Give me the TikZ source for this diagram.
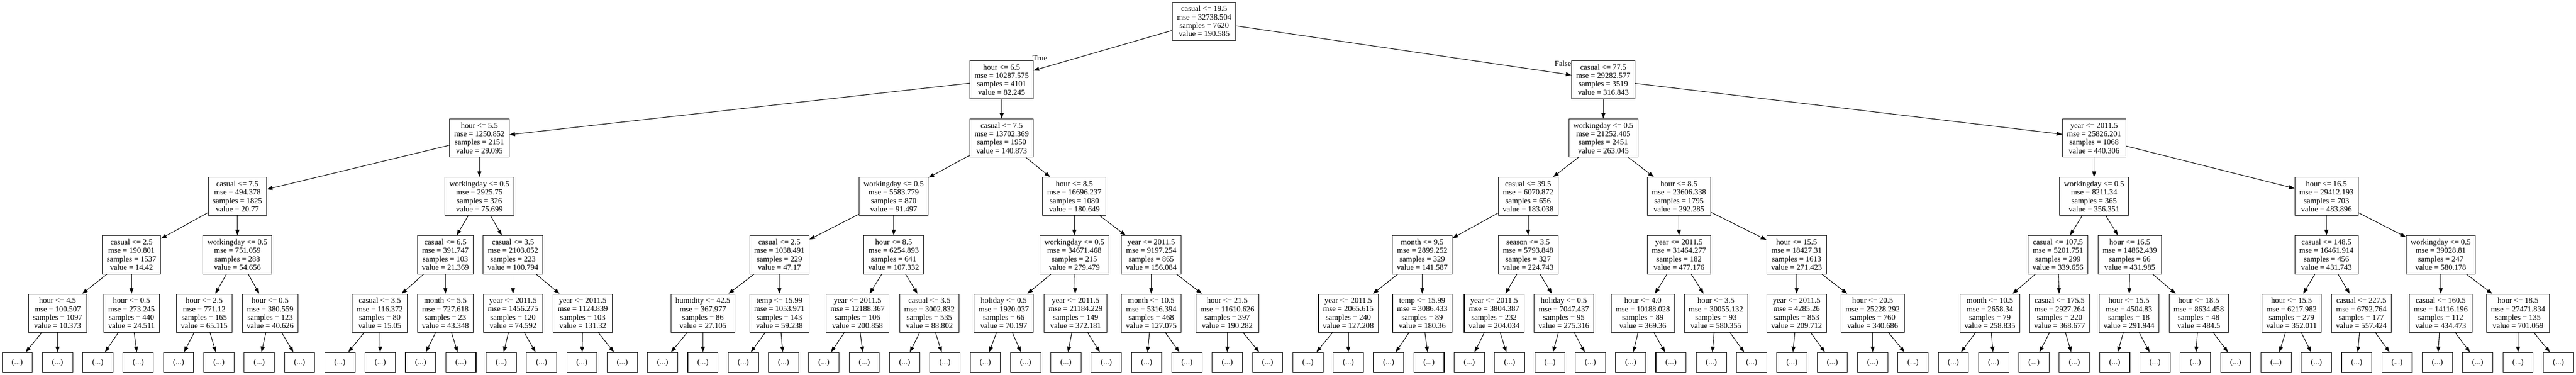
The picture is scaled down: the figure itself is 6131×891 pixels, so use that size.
\documentclass[tikz,border=0pt]{standalone}
\usepackage{fontspec}
\setmainfont{Liberation Serif}
\usepackage{tikz}
\usetikzlibrary{arrows.meta}
\tikzset{>={Triangle[length=10bp,width=7bp]}}
\tikzstyle{split node}=[draw,line width=1bp,rectangle,align=center,inner xsep=8bp,inner ysep=2bp,minimum height=68.25bp,font=\fontsize{14bp}{15bp}\selectfont]
\tikzstyle{more node}=[draw,line width=1bp,rectangle,minimum width=54bp,minimum height=36bp,inner sep=0pt,font=\fontsize{14bp}{15bp}\selectfont]
\tikzstyle{tree edge}=[->,line width=1bp]

\begin{document}
\begin{tikzpicture}[x=0.75bp,y=-0.75bp]
    \useasboundingbox (0,0) rectangle (6131,891);
    \def\ya{50.5}
    \def\yb{189.3}
    \def\yc{328.1}
    \def\yd{466.9}
    \def\ye{605.7}
    \def\yf{744.5}

    % depth 0 and 1
    \node[split node] (n0) at (2866,\ya) {casual <= 19.5\\mse = 32738.504\\samples = 7620\\value = 190.585};
    \node[split node] (n1) at (2384,\yb) {hour <= 6.5\\mse = 10287.575\\samples = 4101\\value = 82.245};
    \node[split node] (n2) at (3816,\yb) {casual <= 77.5\\mse = 29282.577\\samples = 3519\\value = 316.843};
    \node (truelbl) at (2475,137.5) {\fontsize{14bp}{15bp}\selectfont True};
    \node (falselbl) at (3720,151) {\fontsize{14bp}{15bp}\selectfont False};

    % depth 2
    \node[split node] (n3) at (1141,\yc) {hour <= 5.5\\mse = 1250.852\\samples = 2151\\value = 29.095};
    \node[split node] (n4) at (2384,\yc) {casual <= 7.5\\mse = 13702.369\\samples = 1950\\value = 140.873};
    \node[split node] (n5) at (3816,\yc) {workingday <= 0.5\\mse = 21252.405\\samples = 2451\\value = 263.045};
    \node[split node] (n6) at (4984,\yc) {year <= 2011.5\\mse = 25826.201\\samples = 1068\\value = 440.306};

    % depth 3
    \node[split node] (n7) at (565,\yd) {casual <= 7.5\\mse = 494.378\\samples = 1825\\value = 20.77};
    \node[split node] (n8) at (1141,\yd) {workingday <= 0.5\\mse = 2925.75\\samples = 326\\value = 75.699};
    \node[split node] (n9) at (2127,\yd) {workingday <= 0.5\\mse = 5583.779\\samples = 870\\value = 91.497};
    \node[split node] (n10) at (2557,\yd) {hour <= 8.5\\mse = 16696.237\\samples = 1080\\value = 180.649};
    \node[split node] (n11) at (3637,\yd) {casual <= 39.5\\mse = 6070.872\\samples = 656\\value = 183.038};
    \node[split node] (n12) at (3996,\yd) {hour <= 8.5\\mse = 23606.338\\samples = 1795\\value = 292.285};
    \node[split node] (n13) at (4984,\yd) {workingday <= 0.5\\mse = 8211.34\\samples = 365\\value = 356.351};
    \node[split node] (n14) at (5537,\yd) {hour <= 16.5\\mse = 29412.193\\samples = 703\\value = 483.896};

    % depth 4
    \node[split node] (n15) at (313,\ye) {casual <= 2.5\\mse = 190.801\\samples = 1537\\value = 14.42};
    \node[split node] (n16) at (565,\ye) {workingday <= 0.5\\mse = 751.059\\samples = 288\\value = 54.656};
    \node[split node] (n17) at (1060,\ye) {casual <= 6.5\\mse = 391.747\\samples = 103\\value = 21.369};
    \node[split node] (n18) at (1221,\ye) {casual <= 3.5\\mse = 2103.052\\samples = 223\\value = 100.794};
    \node[split node] (n19) at (1855,\ye) {casual <= 2.5\\mse = 1038.491\\samples = 229\\value = 47.17};
    \node[split node] (n20) at (2127,\ye) {hour <= 8.5\\mse = 6254.893\\samples = 641\\value = 107.332};
    \node[split node] (n21) at (2557,\ye) {workingday <= 0.5\\mse = 34671.468\\samples = 215\\value = 279.479};
    \node[split node] (n22) at (2740,\ye) {year <= 2011.5\\mse = 9197.254\\samples = 865\\value = 156.084};
    \node[split node] (n23) at (3385,\ye) {month <= 9.5\\mse = 2899.252\\samples = 329\\value = 141.587};
    \node[split node] (n24) at (3637,\ye) {season <= 3.5\\mse = 5793.848\\samples = 327\\value = 224.743};
    \node[split node] (n25) at (3996,\ye) {year <= 2011.5\\mse = 31464.277\\samples = 182\\value = 477.176};
    \node[split node] (n26) at (4276,\ye) {hour <= 15.5\\mse = 18427.31\\samples = 1613\\value = 271.423};
    \node[split node] (n27) at (4898,\ye) {casual <= 107.5\\mse = 5201.751\\samples = 299\\value = 339.656};
    \node[split node] (n28) at (5069,\ye) {hour <= 16.5\\mse = 14862.439\\samples = 66\\value = 431.985};
    \node[split node] (n29) at (5537,\ye) {casual <= 148.5\\mse = 16461.914\\samples = 456\\value = 431.743};
    \node[split node] (n30) at (5809,\ye) {workingday <= 0.5\\mse = 39028.81\\samples = 247\\value = 580.178};

    % depth 5
    \node[split node] (n31) at (137,\yf) {hour <= 4.5\\mse = 100.507\\samples = 1097\\value = 10.373};
    \node[split node] (n32) at (313,\yf) {hour <= 0.5\\mse = 273.245\\samples = 440\\value = 24.511};
    \node[split node] (n33) at (486,\yf) {hour <= 2.5\\mse = 771.12\\samples = 165\\value = 65.115};
    \node[split node] (n34) at (643,\yf) {hour <= 0.5\\mse = 380.559\\samples = 123\\value = 40.626};
    \node[split node] (n35) at (904,\yf) {casual <= 3.5\\mse = 116.372\\samples = 80\\value = 15.05};
    \node[split node] (n36) at (1060,\yf) {month <= 5.5\\mse = 727.618\\samples = 23\\value = 43.348};
    \node[split node] (n37) at (1221,\yf) {year <= 2011.5\\mse = 1456.275\\samples = 120\\value = 74.592};
    \node[split node] (n38) at (1387,\yf) {year <= 2011.5\\mse = 1124.839\\samples = 103\\value = 131.32};
    \node[split node] (n39) at (1673,\yf) {humidity <= 42.5\\mse = 367.977\\samples = 86\\value = 27.105};
    \node[split node] (n40) at (1855,\yf) {temp <= 15.99\\mse = 1053.971\\samples = 143\\value = 59.238};
    \node[split node] (n41) at (2041,\yf) {year <= 2011.5\\mse = 12188.367\\samples = 106\\value = 200.858};
    \node[split node] (n42) at (2212,\yf) {casual <= 3.5\\mse = 3002.832\\samples = 535\\value = 88.802};
    \node[split node] (n43) at (2389,\yf) {holiday <= 0.5\\mse = 1920.037\\samples = 66\\value = 70.197};
    \node[split node] (n44) at (2560,\yf) {year <= 2011.5\\mse = 21184.229\\samples = 149\\value = 372.181};
    \node[split node] (n45) at (2740,\yf) {month <= 10.5\\mse = 5316.394\\samples = 468\\value = 127.075};
    \node[split node] (n46) at (2921,\yf) {hour <= 21.5\\mse = 11610.626\\samples = 397\\value = 190.282};
    \node[split node] (n47) at (3209,\yf) {year <= 2011.5\\mse = 2065.615\\samples = 240\\value = 127.208};
    \node[split node] (n48) at (3385,\yf) {temp <= 15.99\\mse = 3086.433\\samples = 89\\value = 180.36};
    \node[split node] (n49) at (3556,\yf) {year <= 2011.5\\mse = 3804.387\\samples = 232\\value = 204.034};
    \node[split node] (n50) at (3722,\yf) {holiday <= 0.5\\mse = 7047.437\\samples = 95\\value = 275.316};
    \node[split node] (n51) at (3910,\yf) {hour <= 4.0\\mse = 10188.028\\samples = 89\\value = 369.36};
    \node[split node] (n52) at (4084,\yf) {hour <= 3.5\\mse = 30055.132\\samples = 93\\value = 580.355};
    \node[split node] (n53) at (4276,\yf) {year <= 2011.5\\mse = 4285.26\\samples = 853\\value = 209.712};
    \node[split node] (n54) at (4457,\yf) {hour <= 20.5\\mse = 25228.292\\samples = 760\\value = 340.686};
    \node[split node] (n55) at (4736,\yf) {month <= 10.5\\mse = 2658.34\\samples = 79\\value = 258.835};
    \node[split node] (n56) at (4902,\yf) {casual <= 175.5\\mse = 2927.264\\samples = 220\\value = 368.677};
    \node[split node] (n57) at (5067,\yf) {hour <= 15.5\\mse = 4504.83\\samples = 18\\value = 291.944};
    \node[split node] (n58) at (5233,\yf) {hour <= 18.5\\mse = 8634.458\\samples = 48\\value = 484.5};
    \node[split node] (n59) at (5454,\yf) {hour <= 15.5\\mse = 6217.982\\samples = 279\\value = 352.011};
    \node[split node] (n60) at (5620,\yf) {casual <= 227.5\\mse = 6792.764\\samples = 177\\value = 557.424};
    \node[split node] (n61) at (5809,\yf) {casual <= 160.5\\mse = 14116.196\\samples = 112\\value = 434.473};
    \node[split node] (n62) at (5993,\yf) {hour <= 18.5\\mse = 27471.834\\samples = 135\\value = 701.059};

    % cut-off subtrees
    \foreach \k in {0,...,63}
        \node[more node] (d\k) at ({41+96*\k},862) {(...)};

    \foreach \i in {0,...,30}{
        \pgfmathtruncatemacro{\lc}{2*\i+1}
        \pgfmathtruncatemacro{\rc}{2*\i+2}
        \draw[tree edge] (n\i) -- (n\lc);
        \draw[tree edge] (n\i) -- (n\rc);
    }
    \foreach \j in {0,...,31}{
        \pgfmathtruncatemacro{\p}{31+\j}
        \pgfmathtruncatemacro{\lc}{2*\j}
        \pgfmathtruncatemacro{\rc}{2*\j+1}
        \draw[tree edge] (n\p) -- (d\lc);
        \draw[tree edge] (n\p) -- (d\rc);
    }
\end{tikzpicture}
\end{document}
